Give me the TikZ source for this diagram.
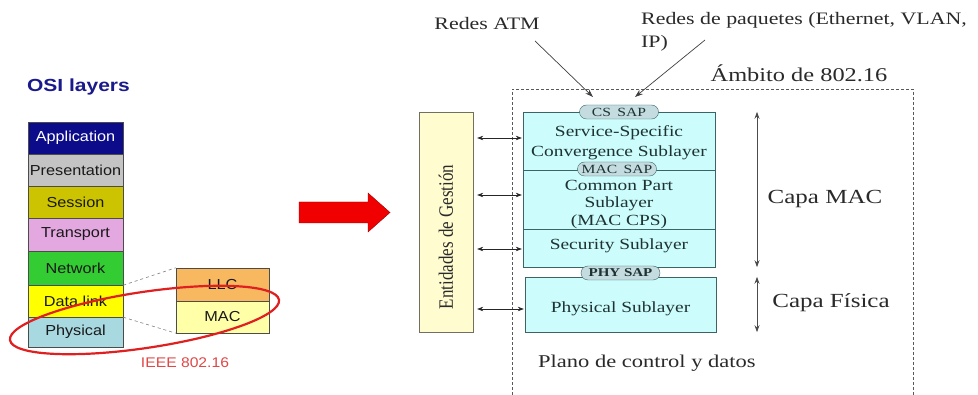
\documentclass[tikz,border=0pt]{standalone}
\usepackage{fontspec}
\setmainfont{Liberation Serif}[FakeStretch=1.25]
\newfontfamily\osifont{Liberation Sans}[FakeStretch=1.12]
\newfontfamily\osibold{Liberation Sans}[FakeStretch=1.2]
\newfontfamily\vertfont{Liberation Serif}
\usetikzlibrary{arrows.meta,calc}
\definecolor{appc}{HTML}{0C0C8A}
\definecolor{presc}{HTML}{C4C4C4}
\definecolor{sesc}{HTML}{CCC400}
\definecolor{trac}{HTML}{E4A8E0}
\definecolor{netc}{HTML}{33CC33}
\definecolor{dlc}{HTML}{FFFF00}
\definecolor{phyc}{HTML}{A8D8E0}
\definecolor{llcc}{HTML}{F8B860}
\definecolor{macc}{HTML}{FFFFA8}
\definecolor{titleblue}{HTML}{1A1A8C}
\definecolor{ieeetext}{HTML}{E04848}
\definecolor{ellred}{HTML}{E02020}
\definecolor{arrowred}{HTML}{F00000}
\definecolor{cyanfill}{HTML}{CCFCFC}
\definecolor{subborder}{HTML}{3C6464}
\definecolor{sapfill}{HTML}{C4DCE0}
\definecolor{mgfill}{HTML}{FFFCD0}
\definecolor{mgborder}{HTML}{707060}
\definecolor{labeltext}{HTML}{2A2A2A}
\definecolor{subtext}{HTML}{1E3232}
\begin{document}
\begin{tikzpicture}[x=1pt,y=-1pt,
  osi/.style={draw=black!70, minimum width=95pt, inner sep=0pt, text=black!90,
    font=\osifont\fontsize{14.5}{16}\selectfont},
  sub/.style={draw=subborder, fill=cyanfill, minimum width=192pt, inner sep=0pt},
  subtxt/.style={inner sep=0pt, align=center, text=subtext,
    font=\fontsize{15.5}{17.5}\selectfont},
  sap/.style={draw=subborder, fill=sapfill, rounded corners=7pt, minimum width=79pt,
    minimum height=14pt, inner sep=0pt, text=subtext, font=\fontsize{12.5}{13}\selectfont},
  lbl/.style={inner sep=0pt, text=labeltext},
  dbl/.style={{Stealth[length=6pt,width=4.5pt]}-{Stealth[length=6pt,width=4.5pt]}, black!85, line width=0.6pt},
  vdbl/.style={{Stealth[length=7pt,width=5pt]}-{Stealth[length=7pt,width=5pt]}, black!70, line width=1pt},
  ptr/.style={-{Stealth[length=8pt,width=5.5pt]}, black!75, line width=0.7pt},
  frame/.style={black!65, line width=0.7pt, dash pattern=on 3pt off 2pt}]
\useasboundingbox[fill=white] (0,0) rectangle (978,395);

% ---------- OSI stack ----------
\node[inner sep=0pt, text=titleblue, font=\osibold\bfseries\fontsize{17.5}{20}\selectfont] (title) at (78.5,87) {OSI layers};
\node[osi, fill=appc, text=white, minimum height=32pt] (app) at (75.5,138) {Application};
\node[osi, fill=presc, minimum height=32pt] (pres) at (75.5,170) {Presentation};
\node[osi, fill=sesc, minimum height=32pt] (ses) at (75.5,202) {Session};
\node[osi, fill=trac, minimum height=33pt] (tra) at (75.5,234.5) {Transport};
\node[osi, fill=netc, minimum height=34pt] (net) at (75.5,268) {Network};
\node[osi, fill=dlc, minimum height=32pt] (dl) at (75.5,301) {Data link};
\node[osi, fill=phyc, minimum height=30pt] (phy) at (75.5,332) {Physical};

\node[osi, fill=llcc, minimum width=93pt, minimum height=33pt] (llc) at (222.5,284.5) {LLC};
\node[osi, fill=macc, minimum width=93pt, minimum height=32pt] (mac) at (222.5,317) {MAC};

\draw[black!50, dashed, line width=0.6pt] (net.south east) -- (llc.north west);
\draw[black!50, dashed, line width=0.6pt] (dl.south east) -- (mac.south west);

\draw[ellred, line width=2.2pt, rotate around={8.5:(144.5,320)}] (144.5,320) ellipse [x radius=136pt, y radius=28pt];
\node[inner sep=0pt, text=ieeetext, font=\osifont\fontsize{14}{16}\selectfont] (ieee) at (185,363) {IEEE 802.16};

% ---------- red arrow ----------
\filldraw[fill=arrowred, draw=red!60!black, line width=0.4pt]
  (299,202) -- (368,202) -- (368,193) -- (390,212.5) -- (368,232) -- (368,223) -- (299,223) -- cycle;

% ---------- 802.16 scope ----------
\draw[frame] (512,395) -- (512,89) -- (913,89) -- (913,395);
\node[lbl, font=\fontsize{19.5}{22}\selectfont] (scope) at (799,73) {Ámbito de 802.16};

\node[draw=mgborder, fill=mgfill, minimum width=54pt, minimum height=220pt, inner sep=0pt] (mgmt) at (446,222) {};
\node[lbl, rotate=90, font=\vertfont\fontsize{17}{19}\selectfont] (mgtext) at (446,237) {\scalebox{1}[1.2]{Entidades de Gestión}};

\node[sub, minimum height=58pt] (cs) at (619,141) {};
\node[sub, minimum height=59pt] (cps) at (619,199.5) {};
\node[sub, minimum height=38pt] (sec) at (619,248) {};
\node[sub, minimum width=191pt, minimum height=55pt] (phys) at (620.5,304.5) {};

\node[subtxt, font=\fontsize{15.5}{20}\selectfont] (cstext) at (619,143) {Service-Specific\\Convergence Sublayer};
\node[subtxt] (cpstext) at (619,204.5) {Common Part\\Sublayer\\(MAC CPS)};
\node[subtxt] (sectext) at (619,245.5) {Security Sublayer};
\node[subtxt] (phystext) at (620.5,309) {Physical Sublayer};

\node[sap] (cssap) at (619,112) {CS\enspace SAP};
\node[sap] (macsap) at (617,169) {MAC\enspace SAP};
\node[sap, font=\bfseries\fontsize{12}{13}\selectfont] (physap) at (620.5,273) {PHY SAP};

\draw[dbl, shorten <=4pt, shorten >=1pt] (mgmt.east |- 0,138) -- (cs.west |- 0,138);
\draw[dbl, shorten <=4pt, shorten >=1pt] (mgmt.east |- 0,195) -- (cps.west |- 0,195);
\draw[dbl, shorten <=4pt, shorten >=1pt] (mgmt.east |- 0,249) -- (sec.west |- 0,249);
\draw[dbl, shorten <=4pt, shorten >=1pt] (mgmt.east |- 0,309) -- (phys.west |- 0,309);

% ---------- network labels ----------
\node[lbl, font=\fontsize{17.5}{23}\selectfont] (atm) at (487,24) {Redes ATM};
\node[lbl, anchor=west, align=left, font=\fontsize{17.5}{23}\selectfont] (pkt) at (641,31.5) {Redes de paquetes (Ethernet, VLAN,\\IP)};
\coordinate (atmfrom) at (535,41);
\coordinate (atmto) at (593,97);
\coordinate (pktfrom) at (705,40);
\coordinate (pktto) at (635,97);
\draw[ptr] (atmfrom) -- (atmto);
\draw[ptr] (pktfrom) -- (pktto);

% ---------- layer extents ----------
\draw[vdbl] (cs.north -| 757,0) -- (sec.south -| 757,0);
\draw[vdbl] (phys.north -| 757,0) -- (phys.south -| 757,0);
\node[lbl, font=\fontsize{20}{22}\selectfont] (capamac) at (825,199) {Capa MAC};
\node[lbl, font=\fontsize{20}{22}\selectfont] (capafis) at (831,303) {Capa Física};
\node[lbl, anchor=west, font=\fontsize{18}{20}\selectfont] (plano) at (538,363) {Plano de control y datos};
\end{tikzpicture}
\end{document}
